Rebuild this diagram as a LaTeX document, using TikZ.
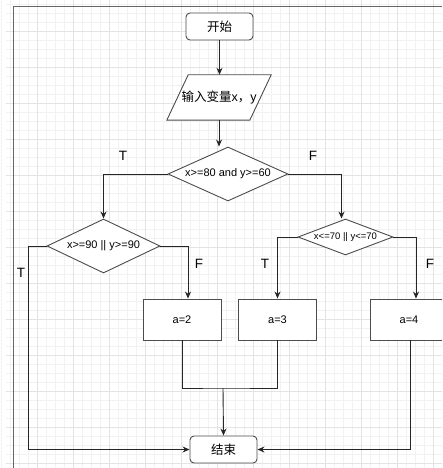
\documentclass[tikz,border=0pt]{standalone}
\usepackage{fontspec}
\setmainfont{Liberation Sans}
\newfontfamily\cjk{Noto Sans CJK SC}
\usetikzlibrary{shapes.geometric,arrows.meta}
\begin{document}
\begin{tikzpicture}[x=1pt,y=-1pt,
  every node/.style={font=\fontsize{11}{13}\selectfont},
  boxline/.style={draw=black!70,line width=0.9pt},
  term/.style={boxline,rounded corners=4pt,minimum width=67pt,minimum height=27pt,inner sep=0pt,fill=white},
  procbox/.style={boxline,minimum width=78pt,minimum height=41pt,inner sep=0pt,fill=white},
  decision/.style={boxline,diamond,inner sep=0pt,fill=white},
  conn/.style={draw=black!85,line width=0.9pt},
  arr/.style={conn,-{Stealth[length=7pt,width=6pt]}},
  tf/.style={font=\fontsize{13.5}{15}\selectfont},
  cjktext/.style={font=\fontsize{12.5}{14}\selectfont}
]
\useasboundingbox (0,0) rectangle (442,468);
\clip (0,0) rectangle (442,468);
% background grid
\foreach \i in {0,...,48} {
  \draw[black!5,line width=0.6pt] ({1+9*\i},0) -- ({1+9*\i},468);
}
\foreach \i in {0,...,52} {
  \draw[black!5,line width=0.6pt] (6,{4+9*\i}) -- (442,{4+9*\i});
}
\foreach \i in {1,...,12} {
  \draw[black!11,line width=0.8pt] ({1+36*\i},0) -- ({1+36*\i},468);
}
\foreach \i in {1,...,13} {
  \draw[black!11,line width=0.8pt] (6,{-5+36*\i}) -- (442,{-5+36*\i});
}
% page border
\draw[black!60,line width=0.9pt] (13,468) -- (13,6) -- (442,6);

% nodes
\node[term,cjktext] (start) at (219.5,26.5) {\cjk 开始};
\node[minimum width=104pt,minimum height=45pt,inner sep=0pt] (input) at (219,97.5) {};
\draw[boxline,fill=white] (input.north east) -- ([xshift=-83pt]input.north east) -- (input.south west) -- ([xshift=83pt]input.south west) -- cycle;
\node[cjktext] (inputtext) at (input.center) {{\cjk 输入变量}x{\cjk ，}y};
\node[decision,minimum width=120pt,minimum height=54pt] (d1) at (228,174) {\makebox[0pt]{x>=80 and y>=60}};
\node[decision,minimum width=113pt,minimum height=54pt] (d2) at (103.5,246) {\makebox[0pt]{x>=90 || y>=90}};
\node[decision,minimum width=95pt,minimum height=36pt] (d3) at (345.5,237) {\makebox[0pt]{\fontsize{9.5}{11}\selectfont x<=70 || y<=70}};
\node[procbox] (a2) at (182,319.5) {a=2};
\node[procbox] (a3) at (277.5,319.5) {a=3};
\node[procbox] (a4) at (409,319.5) {a=4};
\node[term,cjktext] (end) at (223.5,449.5) {\cjk 结束};
\coordinate (m) at (223,388);

% connectors
\draw[arr] (start.south) -- (start.south |- input.north);
\draw[arr] (input.south) -- (input.south |- d1.north);
\draw[arr] (d1.west) -| (d2.north);
\draw[arr] (d1.east) -| ([xshift=-4pt]d3.north);
\draw[arr] (d2.west) -- ++(-18,0) |- (end.west);
\draw[arr] (d2.east) -| ([xshift=6pt]a2.north);
\draw[arr] (d3.west) -| (a3.north);
\draw[arr] (d3.east) -| ([xshift=7pt]a4.north);
\draw[conn] (a2.south) |- (m) -| (a3.south);
\draw[arr] (m) -- (end.north);
\draw[arr] ([xshift=1pt]a4.south) |- (end.east);

% labels
\node[tf] (t1) at (123,156) {T};
\node[tf] (f1) at (313,156) {F};
\node[tf] (t2) at (21,273) {T};
\node[tf] (f2) at (199,264) {F};
\node[tf] (t3) at (265,264) {T};
\node[tf] (f3) at (430,264) {F};
\end{tikzpicture}
\end{document}
